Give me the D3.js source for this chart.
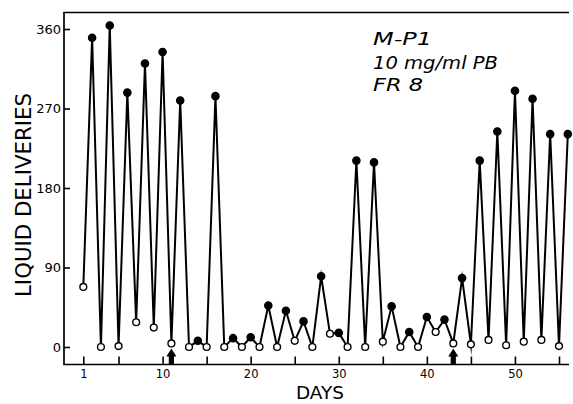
<!DOCTYPE html>
<html>
<head>
<meta charset="utf-8">
<script src="https://cdn.jsdelivr.net/npm/d3@7"></script>
<style>
  html, body { margin: 0; padding: 0; background: #fff; }
  svg { display: block; }
  text { font-family: "DejaVu Sans", "Liberation Sans", sans-serif; fill: #000; }
</style>
</head>
<body>
<svg id="chart" width="573" height="404"></svg>
<script>
// ---- data ----
const days = [1,2,3,4,5,6,7,8,9,10,11,12,13,14,15,16,17,18,19,20,21,22,23,24,25,26,27,28,
              29,30,31,32,33,34,35,36,37,38,39,40,41,42,43,44,45,46,47,48,49,50,51,52,53,54,55,56];
const deliveries = [68,350,0,364,1,288,28,321,22,334,4,279,0,7,0,284,0,10,0,11,0,47,0,41,7,29,0,80,
                    15,16,0,211,0,209,6,46,0,17,0,34,17,31,4,78,3,211,8,244,2,290,6,281,8,241,1,241];
const markerType = ["open","filled","open","filled","open","filled","open","filled","open","filled",
                    "open","filled","open","filled","open","filled","open","filled","open","filled",
                    "open","filled","open","filled","open","filled","open","filled","open","filled",
                    "open","filled","open","filled","open","filled","open","filled","open","filled",
                    "open","filled","open","filled","open","filled","open","filled","open","filled",
                    "open","filled","open","filled","open","filled"];
const yTicks = [0, 90, 180, 270, 360];
const xTicks = [1, 5, 10, 15, 20, 25, 30, 35, 40, 45, 50, 55];
const xTickLabels = ["1", "", "10", "", "20", "", "30", "", "40", "", "50", ""];
const arrowDays = [11, 43];
const noteLines = ["M-P1", "10 mg/ml PB", "FR 8"];
const xTitle = "DAYS";
const yTitle = "LIQUID DELIVERIES";

// ---- layout ----
const svg = d3.select("#chart");
const frameLeft = 64, frameTop = 12.5, frameBottom = 364.5, frameRight = 569;
const x = d3.scaleLinear().domain([0, 56]).range([74.5, 567.8]);
const y = d3.scaleLinear().domain([0, 360]).range([347, 29]);

// frame lines (left, top, bottom)
svg.append("path")
  .attr("d", `M${frameRight},${frameTop}H${frameLeft}V${frameBottom}H${frameRight}`)
  .attr("fill", "none").attr("stroke", "#000").attr("stroke-width", 1.7);

// left axis
const yAxis = svg.append("g")
  .attr("transform", `translate(${frameLeft},0)`)
  .call(d3.axisLeft(y).tickValues(yTicks).tickSize(-6).tickPadding(3).tickFormat(d3.format("d")));
yAxis.select(".domain").remove();
yAxis.selectAll(".tick line").attr("stroke", "#000").attr("stroke-width", 1.6);
yAxis.selectAll(".tick text")
  .style("font-family", "'DejaVu Sans', sans-serif").style("font-size", "13px").attr("fill", "#000");

// bottom axis
const xAxis = svg.append("g")
  .attr("transform", `translate(0,${frameBottom})`)
  .call(d3.axisBottom(x).tickValues(xTicks).tickSize(-8).tickPadding(5)
        .tickFormat((d, i) => xTickLabels[i]));
xAxis.select(".domain").remove();
xAxis.selectAll(".tick line").attr("stroke", "#000").attr("stroke-width", 1.6);
xAxis.selectAll(".tick text")
  .style("font-family", "'DejaVu Sans', sans-serif").style("font-size", "11.5px").attr("fill", "#000");

// axis titles
svg.append("text")
  .attr("x", 320).attr("y", 399)
  .attr("text-anchor", "middle")
  .attr("textLength", 48).attr("lengthAdjust", "spacingAndGlyphs")
  .style("font-size", "18.5px")
  .text(xTitle);

svg.append("text")
  .attr("transform", "translate(30.5,195) rotate(-90)")
  .attr("text-anchor", "middle")
  .attr("textLength", 204).attr("lengthAdjust", "spacingAndGlyphs")
  .style("font-size", "21px")
  .text(yTitle);

// annotation
const noteY = [45, 69, 90.5];
const noteW = [59, 125, 50];
noteLines.forEach((t, i) => {
  svg.append("text")
    .attr("x", 373).attr("y", noteY[i])
    .attr("textLength", noteW[i]).attr("lengthAdjust", "spacingAndGlyphs")
    .style("font-size", "18px").style("font-style", "italic")
    .text(t);
});

// data line
const pts = days.map((d, i) => ({ day: d, v: deliveries[i], type: markerType[i] }));
svg.append("path")
  .datum(pts)
  .attr("fill", "none").attr("stroke", "#000").attr("stroke-width", 2)
  .attr("stroke-linejoin", "miter").attr("stroke-miterlimit", 20)
  .attr("d", d3.line().x(d => x(d.day)).y(d => y(d.v)));

// markers
svg.append("g").selectAll("circle")
  .data(pts)
  .join("circle")
  .attr("cx", d => x(d.day)).attr("cy", d => y(d.v))
  .attr("r", d => d.type === "filled" ? 3.6 : 3.4)
  .attr("fill", d => d.type === "filled" ? "#000" : "#fff")
  .attr("stroke", "#000").attr("stroke-width", 1.4);

// arrows marking days
svg.append("g").selectAll("path")
  .data(arrowDays)
  .join("path")
  .attr("d", d => {
    const cx = x(d), top = 348.5, bot = frameBottom;
    return `M${cx},${top}L${cx + 5},${top + 8}L${cx + 2.6},${top + 8}L${cx + 2.6},${bot}` +
           `L${cx - 2.6},${bot}L${cx - 2.6},${top + 8}L${cx - 5},${top + 8}Z`;
  })
  .attr("fill", "#000");
</script>
</body>
</html>
